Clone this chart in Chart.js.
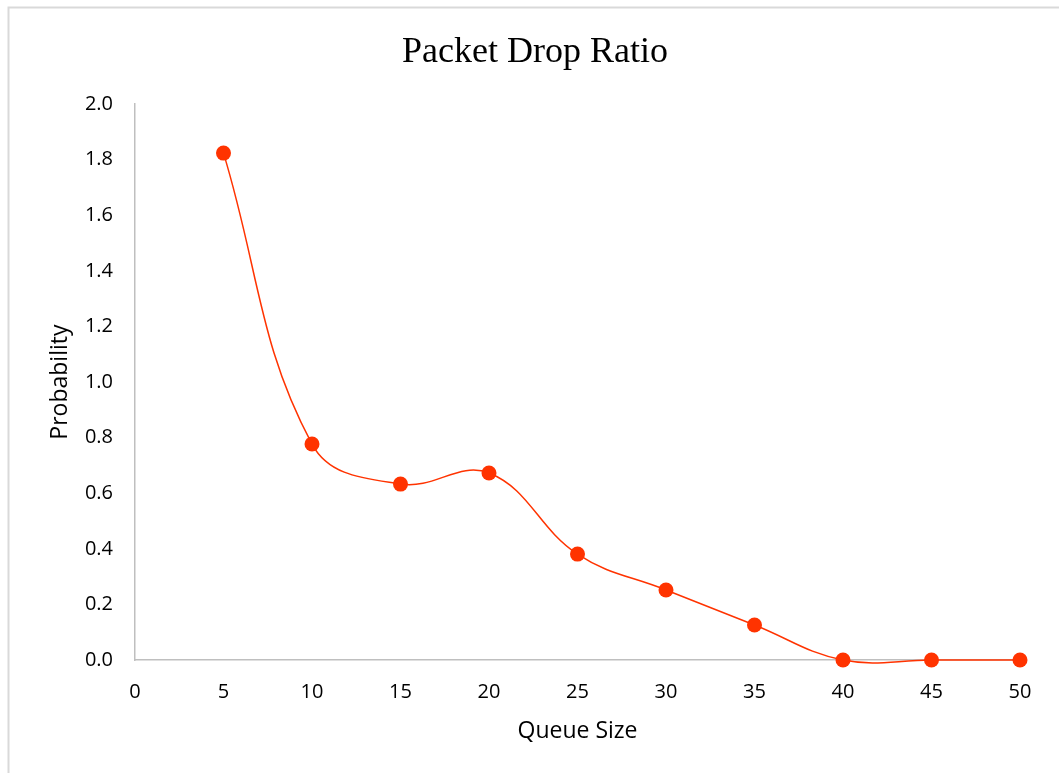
<!DOCTYPE html>
<html>
<head>
<meta charset="utf-8">
<title>Packet Drop Ratio</title>
<script src="https://cdn.jsdelivr.net/npm/chart.js@4/dist/chart.umd.min.js"></script>
<style>
  html, body { margin: 0; padding: 0; background: #ffffff; overflow: hidden; }
  #wrap { position: relative; width: 1059px; height: 773px; }
  canvas { display: block; }
</style>
</head>
<body>
<div id="wrap"><canvas id="chart" width="1059" height="773"></canvas></div>
<script>
// Queue size (x) and measured packet drop probability (y)
const queueSize = [5, 10, 15, 20, 25, 30, 35, 40, 45, 50];
const dropProbability = [1.824, 0.777, 0.633, 0.673, 0.381, 0.252, 0.126, 0.0, 0.0, 0.0];

// Axis ranges and tick steps
const xTicks = { min: 0, max: 50, step: 5 };
const yTicks = { min: 0, max: 2.0, step: 0.2 };

const seriesColor = '#FF3300';
const axisColor = '#BFBFBF';
const tickFont = { family: '"Open Sans", sans-serif', size: 20 };
const titleFont = { family: '"Open Sans", sans-serif', size: 23 };

// Light grey frame around the whole chart
const framePlugin = {
  id: 'frame',
  beforeDraw(chart) {
    const ctx = chart.ctx;
    ctx.save();
    ctx.strokeStyle = '#D9D9D9';
    ctx.lineWidth = 2;
    ctx.strokeRect(8.5, 7.5, 2000, 2000);
    ctx.restore();
  }
};

new Chart(document.getElementById('chart'), {
  type: 'line',
  data: {
    datasets: [{
      label: 'Packet Drop Ratio',
      data: queueSize.map((q, i) => ({ x: q, y: dropProbability[i] })),
      borderColor: seriesColor,
      backgroundColor: seriesColor,
      borderWidth: 1.5,
      pointRadius: 7.5,
      pointHoverRadius: 7.5,
      pointBackgroundColor: seriesColor,
      pointBorderWidth: 0,
      tension: 0.4,
      capBezierPoints: false,
      clip: false,
      fill: false
    }]
  },
  options: {
    responsive: false,
    animation: false,
    events: [],
    layout: { padding: { top: 0, right: 39, bottom: 0, left: 50 } },
    plugins: {
      legend: { display: false },
      tooltip: { enabled: false },
      title: {
        display: true,
        text: 'Packet Drop Ratio',
        color: '#000000',
        font: { family: '"Liberation Serif", "Times New Roman", serif', size: 36, weight: 'normal' },
        padding: { top: 31, bottom: 30 }
      }
    },
    scales: {
      x: {
        type: 'linear',
        min: xTicks.min,
        max: xTicks.max,
        grid: { display: false, drawTicks: false },
        border: { display: true, color: axisColor, width: 1.5 },
        ticks: {
          stepSize: xTicks.step,
          color: '#000000',
          font: tickFont,
          padding: 20,
          maxRotation: 0
        },
        title: {
          display: true,
          text: 'Queue Size',
          color: '#000000',
          font: titleFont,
          padding: { top: 0, bottom: 28 }
        },
        afterFit(scale) { scale.height = 113; }
      },
      y: {
        type: 'linear',
        min: yTicks.min,
        max: yTicks.max,
        grid: { display: false, drawTicks: false },
        border: { display: true, color: axisColor, width: 1.5 },
        ticks: {
          stepSize: yTicks.step,
          color: '#000000',
          font: tickFont,
          padding: 22,
          callback: v => Number(v).toFixed(1)
        },
        title: {
          display: true,
          text: 'Probability',
          color: '#000000',
          font: titleFont,
          padding: { top: -3, bottom: 0 }
        },
        afterFit(scale) { scale.width = 85; }
      }
    }
  },
  plugins: [framePlugin]
});
</script>
</body>
</html>
